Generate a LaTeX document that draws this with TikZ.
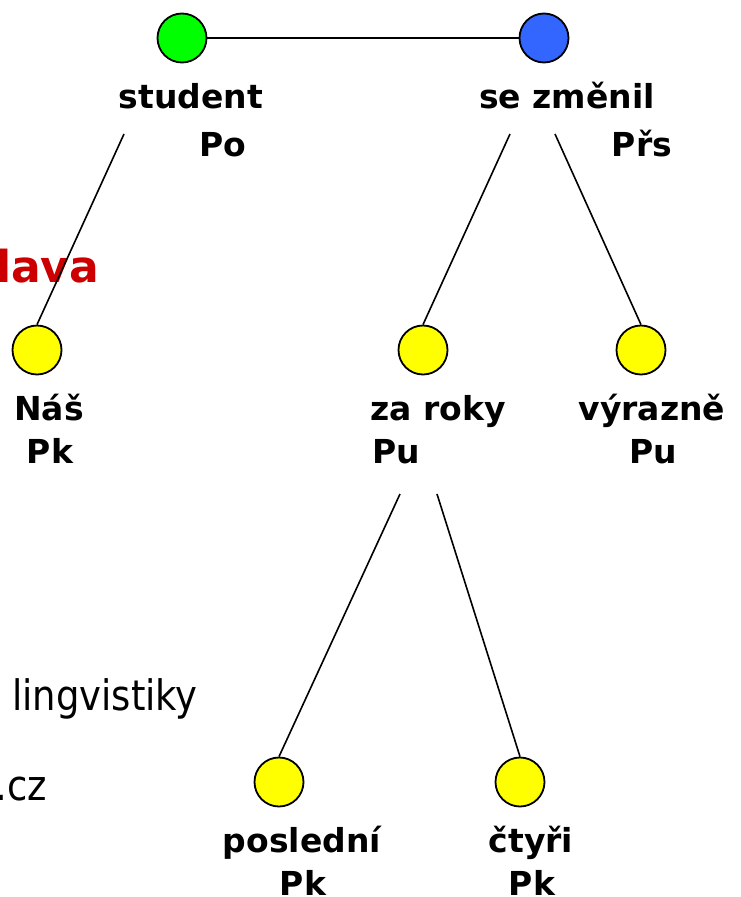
\documentclass[tikz,border=0pt]{standalone}
\usepackage{fontspec}
\setmainfont{DejaVu Sans}
\newfontfamily\uzkypismo[FakeStretch=0.88]{DejaVu Sans}
\definecolor{zelena}{RGB}{0,255,0}
\definecolor{modra}{RGB}{51,102,255}
\definecolor{zluta}{RGB}{255,255,0}
\definecolor{cervena}{RGB}{204,0,0}
\tikzset{
	uzel/.style={circle, draw, line width=1.8pt, minimum size=49pt, inner sep=0pt},
	popis/.style={font=\fontsize{33}{38}\selectfont\bfseries, inner sep=0pt, anchor=base},
	pozadi/.style={font=\uzkypismo\fontsize{42}{48}\selectfont, inner sep=0pt},
	hrana/.style={line width=1.6pt}
}
\begin{document}
\begin{tikzpicture}[x=1pt,y=-1pt]
	\useasboundingbox (0,0) rectangle (740,897);
	% text from the slide behind
	\node [anchor=base west, inner sep=0pt, text=cervena, font=\fontsize{44}{50}\selectfont\bfseries] (nadpis) at (-4,282) {lava};
	\node [pozadi, anchor=base west] (ling) at (12,710) {lingvistiky};
	\node [pozadi, anchor=base east] (web) at (47,800) {.cz};
	% nodes
	\node [uzel, fill=zelena] (student) at (182,38) {};
	\node [uzel, fill=modra] (zmenil) at (544,38) {};
	\node [uzel, fill=zluta] (nas) at (37,350) {};
	\node [uzel, fill=zluta] (roky) at (423,350) {};
	\node [uzel, fill=zluta] (vyrazne) at (641,350) {};
	\node [uzel, fill=zluta] (posledni) at (279,782) {};
	\node [uzel, fill=zluta] (ctyri) at (520,782) {};
	% labels
	\node [popis] (student-w) at (191,108) {student};
	\node [popis] (student-f) at (223,156) {Po};
	\node [popis] (zmenil-w) at (567,108) {se změnil};
	\node [popis] (zmenil-f) at (642,156) {Přs};
	\node [popis] (nas-w) at (49,420) {Náš};
	\node [popis] (nas-f) at (50,463) {Pk};
	\node [popis, anchor=base west] (roky-w) at (370,420) {za roky};
	\node [popis, anchor=base west] (roky-f) at (372,463) {Pu};
	\node [popis] (vyrazne-w) at (652,420) {výrazně};
	\node [popis] (vyrazne-f) at (653,463) {Pu};
	\node [popis] (posledni-w) at (302,852) {poslední};
	\node [popis] (posledni-f) at (303,895) {Pk};
	\node [popis] (ctyri-w) at (531,852) {čtyři};
	\node [popis] (ctyri-f) at (532,895) {Pk};
	% edges
	\coordinate (s1) at (124,134);
	\coordinate (z1) at (510,134);
	\coordinate (z2) at (555,134);
	\coordinate (r1) at (400,494);
	\coordinate (r2) at (437,494);
	\draw [line width=2.5pt] (student) -- (zmenil);
	\draw [hrana] (s1) -- (nas.north);
	\draw [hrana] (z1) -- (roky.north);
	\draw [hrana] (z2) -- (vyrazne.north);
	\draw [hrana] (r1) -- (posledni.north);
	\draw [hrana] (r2) -- (ctyri.north);
\end{tikzpicture}
\end{document}
